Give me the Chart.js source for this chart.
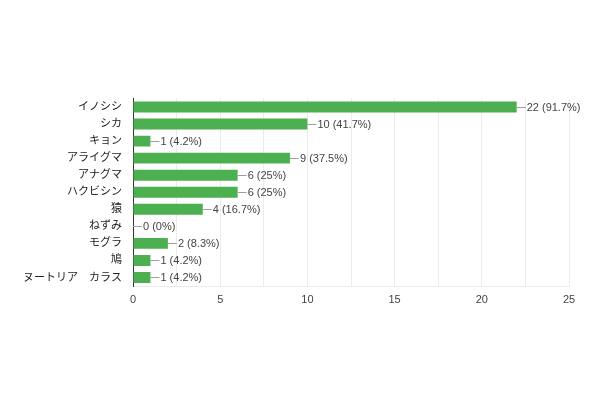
<!DOCTYPE html>
<html><head><meta charset="utf-8">
<script src="https://cdn.jsdelivr.net/npm/chart.js@4"></script>
<style>html,body{margin:0;padding:0;background:#fff}#wrap{width:600px;height:400px}</style>
</head><body><div id="wrap"><canvas id="c" width="600" height="400"></canvas></div>
<script>
const categories = ["イノシシ","シカ","キョン","アライグマ","アナグマ","ハクビシン","猿","ねずみ","モグラ","鳩","ヌートリア　カラス"];
const counts = [22,10,1,9,6,6,4,0,2,1,1];
const percents = ["91.7%","41.7%","4.2%","37.5%","25%","25%","16.7%","0%","8.3%","4.2%","4.2%"];
const xTicks = [0,5,10,15,20,25];
const FONT = "'Liberation Sans', Arial, 'Noto Sans CJK JP', sans-serif";

const labelPlugin = {
  id: 'barLabels',
  afterDatasetsDraw(chart) {
    const ctx = chart.ctx;
    const meta = chart.getDatasetMeta(0);
    ctx.save();
    ctx.font = "11px " + FONT;
    ctx.textBaseline = 'middle';
    ctx.textAlign = 'left';
    meta.data.forEach((bar, i) => {
      const x = bar.x, y = bar.y;
      ctx.strokeStyle = '#9e9e9e';
      ctx.lineWidth = 1;
      ctx.beginPath();
      ctx.moveTo(x, Math.round(y) + 0.5);
      ctx.lineTo(x + 9, Math.round(y) + 0.5);
      ctx.stroke();
      ctx.fillStyle = '#444';
      ctx.fillText(counts[i] + ' (' + percents[i] + ')', x + 10, y + 0.5);
    });
    ctx.restore();
  }
};

new Chart(document.getElementById('c'), {
  type: 'bar',
  data: {
    labels: categories,
    datasets: [{
      data: counts,
      backgroundColor: '#4caf50',
      borderWidth: 0,
      barPercentage: 0.64,
      categoryPercentage: 1.0
    }]
  },
  options: {
    indexAxis: 'y',
    responsive: false,
    animation: false,
    devicePixelRatio: 1,
    layout: { padding: { left: 0, right: 31, top: 98.5, bottom: 93 } },
    plugins: { legend: { display: false }, tooltip: { enabled: false } },
    scales: {
      x: {
        min: 0, max: 25,
        afterFit(s) { s.height = 21; },
        ticks: {
          stepSize: 2.5,
          autoSkip: false,
          maxRotation: 0,
          padding: 7,
          color: '#444',
          font: { size: 11, family: FONT },
          callback: (v) => xTicks.includes(v) ? String(v) : ''
        },
        grid: { color: '#ebebeb', drawTicks: false },
        border: { color: '#ebebeb' }
      },
      y: {
        afterFit(s) { s.width = 133; },
        ticks: {
          color: '#222',
          padding: 11,
          autoSkip: false,
          font: { size: 11, family: FONT }
        },
        grid: { display: false, drawTicks: false },
        border: { color: '#333', width: 1 }
      }
    }
  },
  plugins: [labelPlugin]
});
</script>
</body></html>
